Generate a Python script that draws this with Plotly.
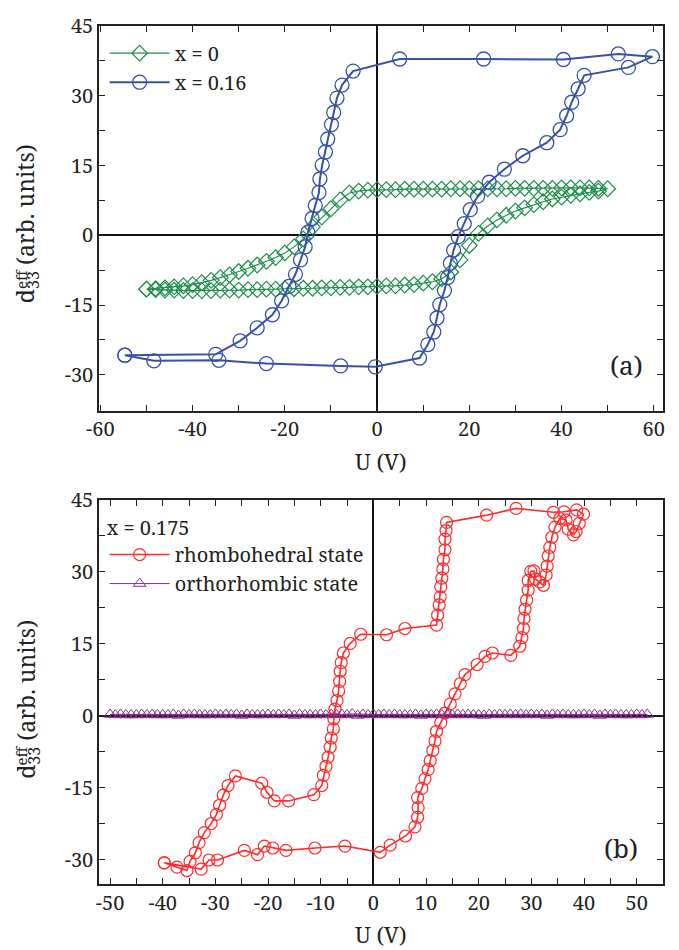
import plotly.graph_objects as go

# ---------------- Panel (a) data ----------------
# x = 0 (green diamonds): forward branch then return branch
x0_U_fwd = [-50, -48, -46, -44, -42, -40, -38, -36, -34, -32, -30, -28, -26, -24, -22, -20,
            -18, -16, -14, -12, -10, -8, -6, -4, -2, 0, 2, 4, 6, 8, 10, 12, 14, 16, 18, 20,
            22, 24, 26, 28, 30, 32, 34, 36, 38, 40, 42, 44, 46, 48, 50]
x0_d_fwd = [-11.6, -11.7, -11.8, -11.8, -11.9, -11.9, -11.9, -11.9, -11.8, -11.8, -11.8, -11.7,
            -11.7, -11.6, -11.6, -11.5, -11.5, -11.4, -11.4, -11.3, -11.3, -11.2, -11.2, -11.1,
            -11.1, -11.0, -10.9, -10.9, -10.7, -10.6, -10.3, -10.0, -9.4, -7.9, -5.3, -2.2,
            0.4, 2.0, 3.3, 4.3, 5.2, 5.9, 6.6, 7.2, 7.8, 8.2, 8.6, 8.9, 9.2, 9.5, 10.0]
x0_U_back = [48, 46, 44, 42, 40, 38, 36, 34, 32, 30, 28, 26, 24, 22, 20, 18, 16, 14, 12, 10,
             8, 6, 4, 2, 0, -2, -4, -6, -8, -10, -12, -14, -16, -18, -20, -22, -24, -26, -28,
             -30, -32, -34, -36, -38, -40, -42, -44, -46, -48, -50]
x0_d_back = [10.1, 10.2, 10.2, 10.2, 10.2, 10.1, 10.1, 10.1, 10.1, 10.1, 10.0, 10.0, 10.0, 10.0,
             10.0, 10.0, 10.0, 9.9, 9.9, 9.9, 9.9, 9.9, 9.8, 9.8, 9.8, 9.7, 9.5, 9.1, 7.6, 5.7,
             3.9, 1.8, -0.8, -2.5, -3.8, -4.8, -5.6, -6.4, -7.1, -7.8, -8.5, -9.1, -9.7, -10.2,
             -10.6, -10.9, -11.1, -11.3, -11.5, -11.6]

# x = 0.16 (blue circles)
x16_U = [-54.7, -48.4, -34.3, -24.0, -7.9, -0.4, 9.2, 11.0, 12.3, 13.0, 13.6, 14.6, 15.3, 15.9,
         16.6, 17.6, 18.9, 20.2, 21.8, 24.3, 27.6, 31.6, 36.8, 39.7, 41.1, 42.2, 43.6, 44.9,
         54.5, 59.7, 52.3, 40.4, 23.1, 4.9, -5.2, -7.6, -8.7, -9.4, -9.9, -10.7, -11.2, -11.9,
         -12.4, -12.6, -13.4, -14.1, -15.0, -15.6, -16.6, -17.7, -19.1, -20.7, -22.7, -26.0,
         -29.7, -35.0, -54.7]
x16_d = [-25.8, -27.0, -26.9, -27.6, -28.1, -28.3, -26.4, -23.5, -20.8, -17.8, -14.9, -11.9,
         -9.1, -6.0, -3.2, -0.3, 2.5, 5.5, 8.4, 11.4, 14.2, 17.1, 19.9, 22.7, 25.7, 28.6, 31.5,
         34.4, 36.1, 38.4, 39.0, 37.8, 37.9, 37.9, 35.3, 32.3, 29.5, 26.4, 23.8, 20.7, 17.9,
         15.1, 12.1, 9.2, 6.4, 3.6, 0.6, -2.5, -5.3, -8.4, -11.0, -14.1, -17.1, -19.9, -22.7,
         -25.6, -25.8]

# ---------------- Panel (b) data ----------------
# x = 0.175, rhombohedral state (red circles)
rh_U = [-39.7, -32.7, -31.2, -29.6, -24.5, -22.0, -20.7, -19.1, -16.6, -11.1, -5.4, 1.3, 3.2,
        6.1, 7.9, 8.4, 8.5, 8.4, 9.2, 9.8, 10.4, 10.8, 11.3, 11.7, 12.0, 12.8, 13.6, 14.6, 15.5,
        16.5, 17.4, 19.7, 21.2, 22.6, 26.1, 27.8, 28.2, 28.5, 28.6, 28.8, 29.1, 29.4, 29.4, 29.9,
        30.5, 30.8, 31.6, 32.3, 32.8, 33.0, 33.2, 33.5, 33.9, 34.5, 35.4, 36.6, 37.0, 38.0, 38.5,
        39.1, 39.9, 38.6, 36.2, 34.2, 27.1, 21.5, 13.9, 13.8, 13.6, 13.6, 13.3, 13.2, 13.0, 12.8,
        12.7, 12.5, 12.2, 12.0, 6.0, 2.5, -2.4, -4.4, -5.7, -6.1, -6.3, -6.4, -6.6, -6.9, -7.3,
        -7.5, -7.6, -8.0, -8.2, -8.6, -9.0, -9.5, -9.8, -11.3, -16.1, -18.8, -20.2, -21.2, -26.2,
        -27.6, -28.5, -29.2, -29.8, -30.8, -32.1, -33.1, -33.8, -34.8, -35.4, -37.3, -39.7]
rh_d = [-30.6, -31.9, -30.0, -30.0, -28.0, -28.9, -27.1, -27.5, -28.0, -27.5, -27.1, -28.4,
        -26.9, -25.0, -23.1, -21.1, -19.1, -17.0, -15.1, -13.1, -11.2, -9.3, -7.2, -5.2, -3.2,
        -1.4, 0.6, 2.5, 4.6, 6.7, 8.6, 10.7, 12.4, 13.1, 12.6, 14.5, 16.3, 18.2, 20.3, 22.2, 24.1,
        26.2, 28.2, 30.1, 30.2, 28.5, 27.9, 27.2, 29.3, 31.2, 33.3, 35.1, 37.2, 39.3, 41.1, 40.8,
        38.9, 37.7, 38.4, 40.1, 42.0, 42.9, 42.5, 42.4, 43.2, 41.8, 40.3, 38.6, 36.8, 34.6, 32.6,
        30.6, 28.7, 26.9, 24.8, 23.1, 21.0, 18.9, 18.2, 16.9, 17.0, 15.1, 13.1, 11.1, 9.3, 7.2,
        5.2, 3.2, 1.4, -0.6, -2.7, -4.6, -6.5, -8.6, -10.5, -12.4, -14.5, -16.4, -17.7, -17.7,
        -15.9, -14.0, -12.5, -14.5, -16.5, -18.6, -20.5, -22.4, -24.3, -26.4, -28.5, -30.3,
        -32.2, -31.5, -30.6]

# orthorhombic state (purple triangles)
or_U = [-50, -48, -46, -44, -42, -40, -38, -36, -34, -32, -30, -28, -26, -24, -22, -20, -18,
        -16, -14, -12, -10, -8, -6, -4, -2, 0, 2, 4, 6, 8, 10, 12, 14, 16, 18, 20, 22, 24, 26,
        28, 30, 32, 34, 36, 38, 40, 42, 44, 46, 48, 50, 52,
        51, 49, 47, 45, 43, 41, 39, 37, 35, 33, 31, 29, 27, 25, 23, 21, 19, 17, 15, 13, 11, 9,
        7, 5, 3, 1, -1, -3, -5, -7, -9, -11, -13, -15, -17, -19, -21, -23, -25, -27, -29, -31,
        -33, -35, -37, -39, -41, -43, -45, -47, -49]
or_d = [0.3, 0.3, 0.2, 0.3, 0.3, 0.2, 0.3, 0.3, 0.3, 0.2, 0.3, 0.3, 0.3, 0.3, 0.2, 0.3, 0.3,
        0.3, 0.3, 0.2, 0.3, 0.3, 0.3, 0.4, 0.3, 0.3, 0.3, 0.3, 0.2, 0.3, 0.3, 0.3, 0.3, 0.3,
        0.3, 0.2, 0.3, 0.3, 0.3, 0.3, 0.3, 0.3, 0.3, 0.3, 0.2, 0.3, 0.3, 0.3, 0.3, 0.2, 0.3, 0.3,
        0.2, 0.2, 0.2, 0.2, 0.1, 0.2, 0.2, 0.2, 0.2, 0.1, 0.2, 0.2, 0.2, 0.2, 0.2, 0.1, 0.2, 0.2,
        0.2, 0.2, 0.2, 0.1, 0.2, 0.2, 0.2, 0.2, 0.2, 0.1, 0.2, 0.2, 0.2, 0.2, 0.2, 0.1, 0.2, 0.2,
        0.2, 0.2, 0.1, 0.2, 0.2, 0.2, 0.2, 0.2, 0.1, 0.2, 0.2, 0.2, 0.2, 0.2, 0.2]

# tick labels
xa_ticks = [-60, -40, -20, 0, 20, 40, 60]
xb_ticks = [-50, -40, -30, -20, -10, 0, 10, 20, 30, 40, 50]
y_ticks = [-30, -15, 0, 15, 30, 45]

# ---------------- styles ----------------
FONT = "Noto Serif"
GREEN = "#1f8f4a"
BLUE = "#3552a8"
RED = "#ff2a2a"
PURPLE = "#8a2f8f"
INK = "#222222"

fig = go.Figure()

fig.add_trace(go.Scatter(
    x=x0_U_fwd + x0_U_back, y=x0_d_fwd + x0_d_back, mode="lines+markers", name="x = 0",
    line=dict(color=GREEN, width=1.2),
    marker=dict(symbol="diamond-open", size=12, color=GREEN, line=dict(width=1.2)),
    xaxis="x", yaxis="y", legend="legend"))
fig.add_trace(go.Scatter(
    x=x16_U, y=x16_d, mode="lines+markers", name="x = 0.16",
    line=dict(color=BLUE, width=2),
    marker=dict(symbol="circle-open", size=14, color=BLUE, line=dict(width=1.3)),
    xaxis="x", yaxis="y", legend="legend"))
fig.add_trace(go.Scatter(
    x=rh_U, y=rh_d, mode="lines+markers", name="rhombohedral state",
    line=dict(color=RED, width=1.6),
    marker=dict(symbol="circle-open", size=12, color=RED, line=dict(width=1.2)),
    xaxis="x2", yaxis="y2", legend="legend2"))
fig.add_trace(go.Scatter(
    x=or_U, y=or_d, mode="lines+markers", name="orthorhombic state",
    line=dict(color=PURPLE, width=1),
    marker=dict(symbol="triangle-up-open", size=11, color=PURPLE, line=dict(width=1)),
    xaxis="x2", yaxis="y2", legend="legend2"))

def fmt(v):
    return "-" + str(abs(v)) if v < 0 else str(v)

axis_common = dict(
    showline=True, linecolor=INK, linewidth=1.5, mirror="allticks",
    ticks="inside", ticklen=6, tickwidth=1.3, tickcolor=INK,
    showgrid=False, zeroline=True, zerolinecolor="#111", zerolinewidth=1.6,
    tickfont=dict(family=FONT, size=20, color=INK),
)
minor_common = dict(ticks="inside", ticklen=6, tickcolor=INK, tickwidth=1.3)

fig.update_layout(
    width=679, height=950,
    margin=dict(l=99, r=16, t=19, b=66),
    paper_bgcolor="white", plot_bgcolor="white",
    font=dict(family=FONT, size=20, color=INK),
    xaxis=dict(axis_common, domain=[0, 1], anchor="y", range=[-60.3, 62],
               tickvals=xa_ticks, ticktext=[fmt(v) for v in xa_ticks],
               minor=dict(minor_common, dtick=10)),
    yaxis=dict(axis_common, domain=[0.5518, 1.0], anchor="x", range=[-37.7, 45],
               tickvals=y_ticks, ticktext=[fmt(v) for v in y_ticks],
               minor=dict(minor_common, dtick=7.5, tick0=0)),
    xaxis2=dict(axis_common, domain=[0, 1], anchor="y2", range=[-52.1, 55],
                tickvals=xb_ticks, ticktext=[fmt(v) for v in xb_ticks],
                minor=dict(minor_common, dtick=5)),
    yaxis2=dict(axis_common, domain=[0, 0.4478], anchor="x2", range=[-35, 45],
                tickvals=y_ticks, ticktext=[fmt(v) for v in y_ticks],
                minor=dict(minor_common, dtick=7.5, tick0=0)),
    legend=dict(x=0.01, y=0.991, xanchor="left", yanchor="top", bgcolor="rgba(0,0,0,0)",
                font=dict(family=FONT, size=20, color=INK), itemwidth=60, tracegroupgap=0),
    legend2=dict(x=0.01, y=0.437, xanchor="left", yanchor="top", bgcolor="rgba(0,0,0,0)",
                 font=dict(family=FONT, size=20, color=INK), itemwidth=60, tracegroupgap=0,
                 title=dict(text="x = 0.175", font=dict(family=FONT, size=20, color=INK))),
    showlegend=True,
)

# x-axis titles
for yt in [0.4925, -0.0578]:
    fig.add_annotation(xref="paper", yref="paper", x=0.5, y=yt, xanchor="center", yanchor="middle",
                       text="U (V)", showarrow=False, font=dict(family=FONT, size=22, color=INK))

# y-axis titles with stacked sub/superscript
for yc, ye in [(0.770, 0.705), (0.2156, 0.1497)]:
    fig.add_annotation(xref="paper", yref="paper", x=-0.128, y=yc, xanchor="center", yanchor="middle",
                       text="d<sub>33</sub> (arb. units)", textangle=-90, showarrow=False,
                       font=dict(family=FONT, size=23, color=INK))
    fig.add_annotation(xref="paper", yref="paper", x=-0.1385, y=ye, xanchor="center", yanchor="middle",
                       text="eff", textangle=-90, showarrow=False,
                       font=dict(family=FONT, size=15, color=INK))

fig.add_annotation(xref="x", yref="y", x=54, y=-28, text="(a)", showarrow=False,
                   font=dict(family=FONT, size=26, color=INK))
fig.add_annotation(xref="x2", yref="y2", x=47, y=-27.5, text="(b)", showarrow=False,
                   font=dict(family=FONT, size=26, color=INK))

fig.write_html("out.html")
